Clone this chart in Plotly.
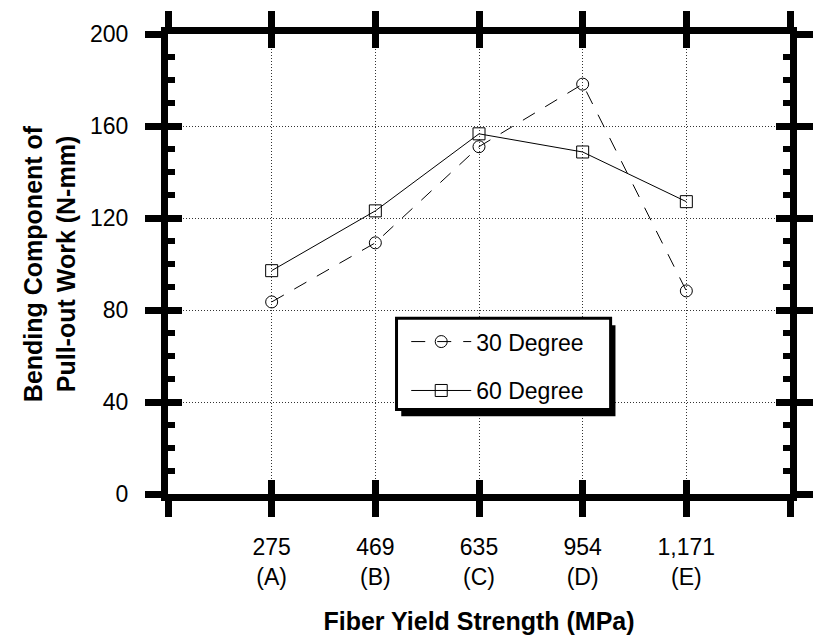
import plotly.graph_objects as go

# ---- data ----
x_labels = ["275<br>(A)", "469<br>(B)", "635<br>(C)", "954<br>(D)", "1,171<br>(E)"]
x_pos = [1, 2, 3, 4, 5]
deg30 = [83.5, 109.2, 151.0, 178.2, 88.3]
deg60 = [97.1, 123.1, 156.6, 148.7, 127.1]
y_tickvals = [0, 40, 80, 120, 160, 200]
x_tickvals = [0, 1, 2, 3, 4, 5, 6]
x_ticktext = [""] + x_labels + [""]

FONT = "Liberation Sans, Arial, Helvetica, sans-serif"
LW = 7

fig = go.Figure()
fig.add_trace(go.Scatter(
    x=x_pos, y=deg30, name="30 Degree", mode="lines+markers",
    line=dict(color="black", width=1, dash="14px,12px"),
    marker=dict(symbol="circle-open", size=12, color="black", line=dict(width=1)),
    legendgroup="a",
))
fig.add_trace(go.Scatter(
    x=x_pos, y=deg60, name="60 Degree", mode="lines+markers",
    line=dict(color="black", width=1),
    marker=dict(symbol="square-open", size=12, color="black", line=dict(width=1)),
    legendgroup="b",
))
# invisible trace registering the overlay axes that carry the inside ticks
fig.add_trace(go.Scatter(x=[None], y=[None], xaxis="x2", yaxis="y2",
                         showlegend=False, hoverinfo="skip"))

common_x = dict(range=[0, 6], tickmode="array", tickvals=x_tickvals,
                showline=True, linewidth=LW, linecolor="black",
                mirror="allticks", tickwidth=LW, tickcolor="black",
                zeroline=False, fixedrange=True)
common_y = dict(range=[0, 200], tickmode="array", tickvals=y_tickvals,
                showline=True, linewidth=LW, linecolor="black",
                mirror="allticks", tickwidth=LW, tickcolor="black",
                zeroline=False, fixedrange=True)

# legend frame with drop shadow (paper coordinates)
fig.add_shape(type="rect", xref="paper", yref="paper",
              x0=0.375, x1=0.7194, y0=0.1688, y1=0.367,
              fillcolor="black", line=dict(width=0), layer="above")
fig.add_shape(type="rect", xref="paper", yref="paper",
              x0=0.3674, x1=0.7116, y0=0.1835, y1=0.3819,
              fillcolor="white", line=dict(color="black", width=3), layer="above")

fig.update_layout(
    width=824, height=644,
    margin=dict(l=168, r=11, t=31, b=139),
    paper_bgcolor="white", plot_bgcolor="white",
    font=dict(family=FONT, color="black", size=23),
    showlegend=True,
    legend=dict(
        x=0.383, y=0.378, xanchor="left", yanchor="top",
        bgcolor="rgba(0,0,0,0)", borderwidth=0,
        font=dict(size=23, family=FONT), tracegroupgap=16,
        itemwidth=60,
    ),
    xaxis=dict(**common_x, ticktext=x_ticktext, ticks="outside", ticklen=16,
               showgrid=True, gridcolor="#333", griddash="1px,2px", gridwidth=1,
               tickfont=dict(size=23), ticklabelstandoff=10,
               title=dict(text="<b>Fiber Yield Strength (MPa)</b>",
                          font=dict(size=25), standoff=26)),
    yaxis=dict(**common_y, ticks="outside", ticklen=16,
               showgrid=True, gridcolor="#333", griddash="1px,2px", gridwidth=1,
               tickfont=dict(size=23), ticklabelstandoff=12,
               title=dict(text="<b>Bending Component of<br>Pull-out Work (N-mm)</b>",
                          font=dict(size=25), standoff=10)),
    xaxis2=dict(**common_x, overlaying="x", anchor="y2", side="bottom",
                ticks="inside", ticklen=14, showticklabels=False, showgrid=False),
    yaxis2=dict(**common_y, overlaying="y", anchor="x2", side="left",
                ticks="inside", ticklen=14, showticklabels=False, showgrid=False,
                minor=dict(ticks="inside", dtick=10, ticklen=7, tickwidth=6,
                           tickcolor="black", showgrid=False)),
)

fig.write_html("out.html")
